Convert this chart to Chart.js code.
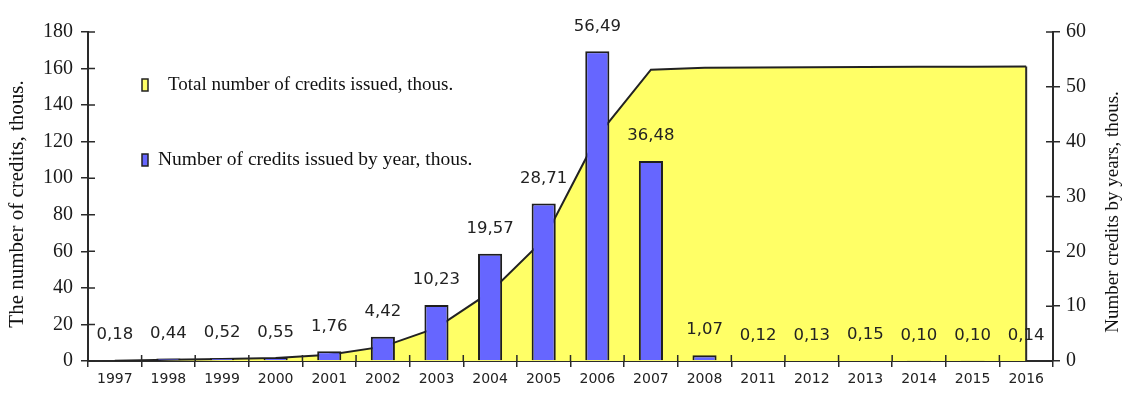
<!DOCTYPE html>
<html lang="en">
<head>
  <meta charset="UTF-8" />
  <title>Credits issued by year</title>
  <script src="https://cdn.jsdelivr.net/npm/chart.js"></script>
  <style>
    body {
      margin: 0;
      background: #fff;
    }

    .chart-box {
      position: relative;
      width: 1126px;
      height: 396px;
    }
  </style>
</head>
<body>
  <div class="chart-box"><canvas id="creditsChart"></canvas></div>

  <script>
    const years = ['1997', '1998', '1999', '2000', '2001', '2002', '2003', '2004', '2005',
                   '2006', '2007', '2008', '2011', '2012', '2013', '2014', '2015', '2016'];
    // credits issued in each year, thous.
    const byYear = [0.18, 0.44, 0.52, 0.55, 1.76, 4.42, 10.23, 19.57, 28.71,
                    56.49, 36.48, 1.07, 0.12, 0.13, 0.15, 0.10, 0.10, 0.14];
    // running total of credits, thous.
    const totalIssued = [0.18, 0.62, 1.14, 1.69, 3.45, 7.87, 18.1, 37.67, 66.38,
                         122.87, 159.35, 160.42, 160.54, 160.67, 160.82, 160.92, 161.02, 161.16];
    const leftTicks = [0, 20, 40, 60, 80, 100, 120, 140, 160, 180];
    const rightTicks = [0, 10, 20, 30, 40, 50, 60];

    const legendItems = [
      { text: 'Total number of credits issued, thous.', color: '#ffff66', y: 85, textX: 168, size: 19 },
      { text: 'Number of credits issued by year, thous.', color: '#6666ff', y: 160, textX: 158, size: 19.5 }
    ];

    const axisTitles = [
      { text: 'The number of credits, thous.', x: 17, y: 204, size: 21 },
      { text: 'Number credits by years, thous.', x: 1113, y: 212, size: 19 }
    ];

    const axisColor = '#2a2a2a';
    const serif = '"Liberation Serif", "Times New Roman", serif';
    const sans = '"DejaVu Sans", Verdana, sans-serif';

    function fmt(v) {
      return v.toFixed(2).replace('.', ',');
    }

    // tick marks that cross the axis lines, plus the closing edge of the area
    const extrasPlugin = {
      id: 'extras',
      afterDatasetsDraw(chart) {
        const ctx = chart.ctx;
        const x = chart.scales.x, yL = chart.scales.yLeft, yR = chart.scales.yRight;
        ctx.save();
        ctx.strokeStyle = axisColor;
        ctx.lineWidth = 1.5;
        ctx.beginPath();
        yL.ticks.forEach(t => {
          const py = yL.getPixelForValue(t.value);
          ctx.moveTo(x.left, py); ctx.lineTo(x.left + 7, py);
        });
        yR.ticks.forEach(t => {
          const py = yR.getPixelForValue(t.value);
          ctx.moveTo(x.right, py); ctx.lineTo(x.right - 7, py);
        });
        for (let i = 0; i <= years.length; i++) {
          const px = x.getPixelForValue(i - 0.5);
          ctx.moveTo(px, yL.bottom); ctx.lineTo(px, yL.bottom - 6);
        }
        ctx.stroke();

        // right edge of the filled total area
        const pts = chart.getDatasetMeta(1).data;
        const last = pts[pts.length - 1];
        ctx.beginPath();
        ctx.lineWidth = 2;
        ctx.moveTo(last.x, last.y);
        ctx.lineTo(last.x, yL.bottom);
        ctx.stroke();
        ctx.restore();
      },
      afterDraw(chart) {
        const ctx = chart.ctx;
        ctx.save();

        // value labels above the yearly bars
        const bars = chart.getDatasetMeta(0).data;
        ctx.font = '16.5px ' + sans;
        ctx.fillStyle = '#222';
        ctx.textAlign = 'center';
        ctx.textBaseline = 'middle';
        bars.forEach((b, i) => {
          ctx.fillText(fmt(byYear[i]), b.x, b.y - 25);
        });

        // rotated axis titles
        axisTitles.forEach(t => {
          ctx.save();
          ctx.translate(t.x, t.y);
          ctx.rotate(-Math.PI / 2);
          ctx.font = t.size + 'px ' + serif;
          ctx.fillStyle = '#111';
          ctx.fillText(t.text, 0, 0);
          ctx.restore();
        });

        // legend
        ctx.textAlign = 'left';
        legendItems.forEach(item => {
          ctx.fillStyle = item.color;
          ctx.fillRect(142, item.y - 6, 6, 12);
          ctx.strokeStyle = '#222';
          ctx.lineWidth = 1.5;
          ctx.strokeRect(142, item.y - 6, 6, 12);
          ctx.fillStyle = '#111';
          ctx.font = item.size + 'px ' + serif;
          ctx.fillText(item.text, item.textX, item.y);
        });
        ctx.restore();
      }
    };

    new Chart(document.getElementById('creditsChart'), {
      data: {
        labels: years,
        datasets: [
          {
            type: 'bar',
            label: 'Number of credits issued by year, thous.',
            data: byYear,
            yAxisID: 'yRight',
            backgroundColor: '#6666ff',
            borderColor: '#1e1e1e',
            borderWidth: 2,
            barPercentage: 0.45,
            categoryPercentage: 1,
            order: 0
          },
          {
            type: 'line',
            label: 'Total number of credits issued, thous.',
            data: totalIssued,
            yAxisID: 'yLeft',
            borderColor: '#222',
            borderWidth: 2,
            backgroundColor: '#ffff66',
            fill: 'origin',
            pointRadius: 0,
            tension: 0,
            order: 1
          }
        ]
      },
      options: {
        responsive: true,
        maintainAspectRatio: false,
        animation: false,
        layout: { padding: { top: 32, left: 0, right: 0, bottom: 0 } },
        plugins: {
          legend: { display: false },
          tooltip: { enabled: false }
        },
        scales: {
          x: {
            offset: true,
            afterFit: s => { s.height = 35; },
            grid: { drawOnChartArea: false, offset: true, tickLength: 6, color: axisColor, lineWidth: 1.5 },
            border: { color: axisColor, width: 2 },
            ticks: { color: '#222', font: { family: sans, size: 14 }, padding: 4, maxRotation: 0, autoSkip: false }
          },
          yLeft: {
            position: 'left',
            min: 0,
            max: 180,
            afterFit: s => { s.width = 88; },
            afterBuildTicks: s => { s.ticks = leftTicks.map(v => ({ value: v })); },
            grid: { drawOnChartArea: false, tickLength: 7, color: axisColor, lineWidth: 1.5 },
            border: { color: axisColor, width: 2 },
            ticks: { color: '#1a1a1a', font: { family: serif, size: 20 }, padding: 8 }
          },
          yRight: {
            position: 'right',
            min: 0,
            max: 60,
            afterFit: s => { s.width = 73; },
            afterBuildTicks: s => { s.ticks = rightTicks.map(v => ({ value: v })); },
            grid: { drawOnChartArea: false, tickLength: 7, color: axisColor, lineWidth: 1.5 },
            border: { color: axisColor, width: 2 },
            ticks: { color: '#1a1a1a', font: { family: serif, size: 20 }, padding: 6 }
          }
        }
      },
      plugins: [extrasPlugin]
    });
  </script>
</body>
</html>
